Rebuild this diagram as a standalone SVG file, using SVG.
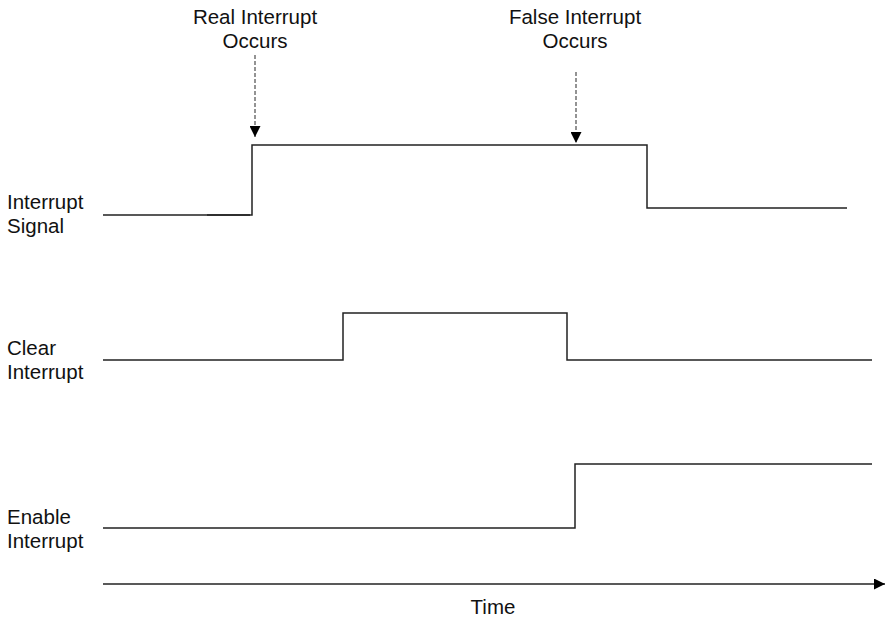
<svg xmlns="http://www.w3.org/2000/svg" width="885" height="619" viewBox="0 0 885 619">
<style>
text{font-family:"Liberation Sans",Arial,sans-serif;font-size:20.5px;fill:#111}
.sig{fill:none;stroke:#222;stroke-width:1.5}
.dash{stroke:#666;stroke-width:1.4;stroke-dasharray:4,2;fill:none}
</style>
<defs>
<marker id="ah" viewBox="0 0 10 10" refX="10" refY="5" markerWidth="11" markerHeight="11" markerUnits="userSpaceOnUse" orient="auto"><path d="M0,0 L10,5 L0,10 z" fill="#000"/></marker>
</defs>
<rect width="885" height="619" fill="#fff"/>
<g id="labels">
<text x="255" y="24" text-anchor="middle">Real Interrupt</text>
<text x="255" y="48" text-anchor="middle">Occurs</text>
<text x="575" y="24" text-anchor="middle">False Interrupt</text>
<text x="575" y="48" text-anchor="middle">Occurs</text>
<text x="7" y="209">Interrupt</text>
<text x="7" y="233">Signal</text>
<text x="7" y="355">Clear</text>
<text x="7" y="379">Interrupt</text>
<text x="7" y="524">Enable</text>
<text x="7" y="548">Interrupt</text>
<text x="493" y="614" text-anchor="middle">Time</text>
</g>
<g id="connectors">
<path id="interrupt-signal" class="sig" d="M103,215 H252 V145 H647 V208 H847"/>
<path class="sig" d="M207,215 H250" stroke-width="2"/>
<path id="clear-interrupt" class="sig" d="M103,360 H343 V313 H567 V360 H872"/>
<path id="enable-interrupt" class="sig" d="M103,528 H575 V464 H872"/>
<line id="time-axis" x1="103" y1="584" x2="885" y2="584" stroke="#222" stroke-width="1.5" marker-end="url(#ah)"/>
<line class="dash" x1="255" y1="55" x2="255" y2="137" marker-end="url(#ah)"/>
<line class="dash" x1="576" y1="72" x2="576" y2="143" marker-end="url(#ah)"/>
</g>
</svg>
